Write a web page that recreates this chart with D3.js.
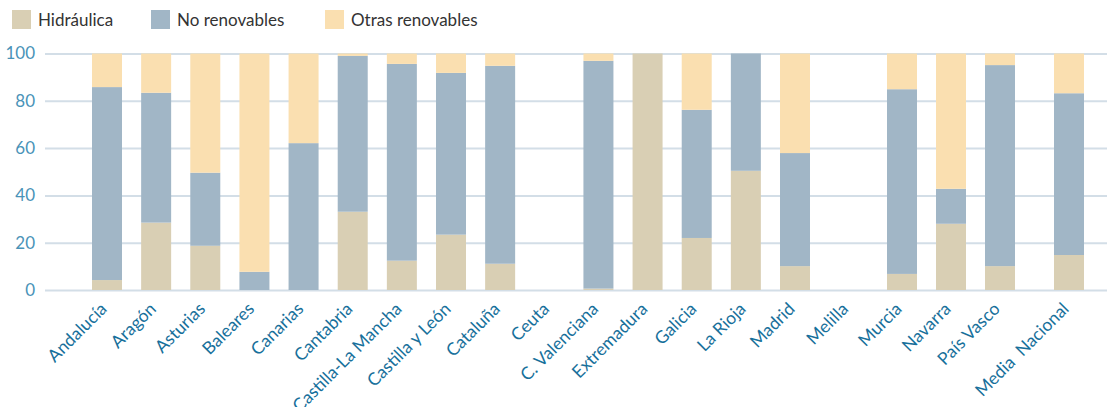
<!DOCTYPE html>
<html>
<head>
<meta charset="utf-8">
<script src="https://cdn.jsdelivr.net/npm/d3@7"></script>
<style>
  body { margin: 0; background: #fff; }
  text { font-family: Lato, "Open Sans", sans-serif; }
</style>
</head>
<body>
<div id="container"></div>
<script>
var regiones = ['Andalucía', 'Aragón', 'Asturias', 'Baleares', 'Canarias', 'Cantabria',
    'Castilla-La Mancha', 'Castilla y León', 'Cataluña', 'Ceuta', 'C. Valenciana',
    'Extremadura', 'Galicia', 'La Rioja', 'Madrid', 'Melilla', 'Murcia', 'Navarra',
    'País Vasco', 'Media  Nacional'];
var hidraulica = [4.2, 28.5, 18.7, 0, 0, 33.1, 12.4, 23.4, 11.1, 0, 0.6, 100, 22.0, 50.4, 10.1, 0, 6.8, 28.0, 10.1, 14.8];
var noRenovables = [81.6, 54.9, 30.9, 7.7, 62.1, 65.9, 83.2, 68.4, 83.7, 0, 96.3, 0, 54.2, 49.6, 47.8, 0, 78.1, 14.8, 85.0, 68.4];
var otrasRenovables = [14.2, 16.6, 50.4, 92.3, 37.9, 1.0, 4.4, 8.2, 5.2, 0, 3.1, 0, 23.8, 0, 42.1, 0, 15.1, 57.2, 4.9, 16.8];
var yTicks = [0, 20, 40, 60, 80, 100];

var series = [
    { key: 'hidraulica', label: 'Hidráulica', color: '#d9cfb4', values: hidraulica },
    { key: 'noRenovables', label: 'No renovables', color: '#a1b6c6', values: noRenovables },
    { key: 'otrasRenovables', label: 'Otras renovables', color: '#fadfb0', values: otrasRenovables }
];

var width = 1107,
    height = 407;

var svg = d3.select('#container').append('svg')
    .attr('width', width)
    .attr('height', height);

var rows = regiones.map(function (r, i) {
    var row = { region: r, i: i };
    series.forEach(function (s) { row[s.key] = s.values[i]; });
    return row;
});

var stacked = d3.stack().keys(series.map(function (s) { return s.key; }))(rows);

// la separación entre columnas del original no es uniforme (Melilla y la media)
var x = d3.scaleLinear()
    .domain([0, 14, 16, 18, 19])
    .range([92, 780, 887, 985, 1054]);
var barW = 30;

var y = d3.scaleLinear().domain([0, 100]).range([290, 53.5]);

// rejilla
var yAxis = d3.axisLeft(y).tickValues(yTicks).tickSize(-(width - 45)).tickPadding(10);
var gy = svg.append('g')
    .attr('transform', 'translate(45,0)')
    .call(yAxis);
gy.select('.domain').remove();
gy.selectAll('.tick line')
    .attr('stroke', '#d3dee7')
    .attr('stroke-width', 2);
gy.selectAll('.tick text')
    .attr('fill', '#4a93b8')
    .style('font-size', '17px')
    .style('font-family', 'Lato, sans-serif');

// barras
svg.append('g').selectAll('g')
    .data(stacked)
    .enter().append('g')
    .attr('fill', function (d, k) { return series[k].color; })
    .selectAll('rect')
    .data(function (d) { return d; })
    .enter().append('rect')
    .attr('x', function (d) { return x(d.data.i); })
    .attr('y', function (d) { return y(d[1]); })
    .attr('width', barW)
    .attr('height', function (d) { return y(d[0]) - y(d[1]); });

// etiquetas del eje x
svg.append('g').selectAll('text')
    .data(rows)
    .enter().append('text')
    .attr('transform', function (d) {
        return 'translate(' + (x(d.i) + barW / 2 + 1) + ',310) rotate(-45)';
    })
    .attr('text-anchor', 'end')
    .attr('fill', '#17709b')
    .style('font-size', '17.5px')
    .style('white-space', 'pre')
    .text(function (d) { return d.region; });

// leyenda
var legendX = [12, 151, 325];
var legend = svg.append('g').selectAll('g')
    .data(series)
    .enter().append('g')
    .attr('transform', function (d, k) { return 'translate(' + legendX[k] + ',10)'; });
legend.append('rect')
    .attr('width', 19)
    .attr('height', 19)
    .attr('fill', function (d) { return d.color; });
legend.append('text')
    .attr('x', 26)
    .attr('y', 16)
    .attr('fill', '#333')
    .style('font-size', '17px')
    .text(function (d) { return d.label; });
</script>
</body>
</html>
